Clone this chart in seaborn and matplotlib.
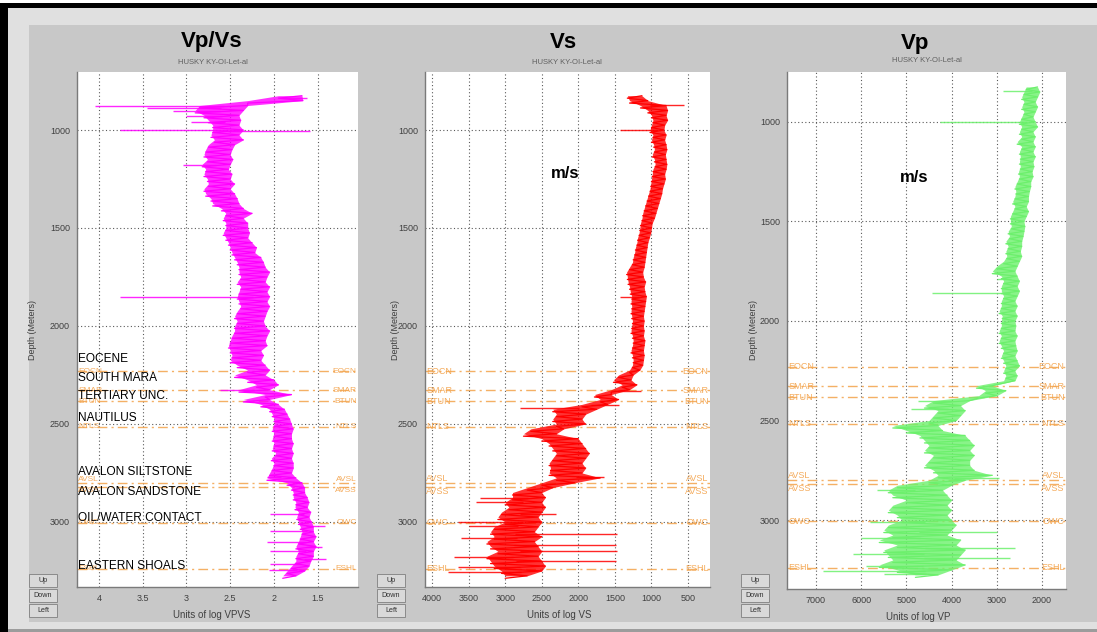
import numpy as np
import pandas as pd
import matplotlib
matplotlib.use("Agg")
import matplotlib.pyplot as plt
import seaborn as sns
from matplotlib.patches import Rectangle
import matplotlib.transforms as mtransforms

sns.set_style("white")
plt.rcParams['font.family'] = ['Liberation Sans', 'DejaVu Sans']

# ---------------- data ----------------
depth = np.arange(825, 3276, 25)   # sampling depths (m)

vpvs_lo = [1.68, 1.67, 2.30, 2.35, 2.40, 2.38, 2.40, 2.35, 2.40, 2.35,
           2.45, 2.48, 2.50, 2.47, 2.50, 2.52, 2.48, 2.50, 2.45, 2.50,
           2.45, 2.42, 2.40, 2.35, 2.25, 2.35, 2.30, 2.30, 2.28, 2.30,
           2.25, 2.20, 2.22, 2.15, 2.12, 2.10, 2.05, 2.08, 2.10, 2.05,
           2.08, 2.05, 2.08, 2.05, 2.08, 2.10, 2.12, 2.10, 2.05, 2.08,
           2.10, 2.08, 2.15, 2.12, 2.15, 2.10, 2.05, 2.10, 2.00, 1.95,
           2.05, 1.80, 2.05, 1.95, 1.88, 1.85, 1.82, 1.80, 1.78, 1.80,
           1.80, 1.78, 1.80, 1.78, 1.80, 1.78, 1.78, 1.80, 1.75, 1.68,
           1.65, 1.65, 1.62, 1.60, 1.62, 1.58, 1.60, 1.57, 1.55, 1.55,
           1.52, 1.55, 1.52, 1.55, 1.55, 1.58, 1.60, 1.65, 1.75]
vpvs_hi = [1.95, 2.30, 2.85, 2.90, 2.80, 2.75, 2.70, 2.70, 2.72, 2.68,
           2.75, 2.78, 2.80, 2.76, 2.82, 2.78, 2.80, 2.76, 2.75, 2.80,
           2.78, 2.72, 2.70, 2.60, 2.55, 2.58, 2.55, 2.55, 2.58, 2.55,
           2.52, 2.50, 2.48, 2.45, 2.42, 2.40, 2.40, 2.38, 2.42, 2.38,
           2.40, 2.42, 2.40, 2.38, 2.42, 2.45, 2.42, 2.45, 2.45, 2.48,
           2.50, 2.52, 2.50, 2.48, 2.50, 2.42, 2.30, 2.45, 2.30, 2.20,
           2.40, 2.10, 2.35, 2.15, 2.05, 2.02, 2.00, 2.00, 2.02, 2.00,
           2.02, 2.00, 2.02, 1.98, 2.03, 2.00, 2.02, 2.05, 2.08, 1.85,
           1.80, 1.78, 1.78, 1.75, 1.76, 1.72, 1.74, 1.72, 1.70, 1.68,
           1.70, 1.72, 1.75, 1.72, 1.75, 1.75, 1.80, 1.85, 1.90]
vpvs_spike_d = [835, 875, 888, 905, 930, 960, 1000, 1003, 1178, 1850, 2325, 2770,
                2960, 3020, 3045, 3100, 3130, 3150, 3190, 3215, 3245]
vpvs_spike_v = [1.62, 4.05, 3.45, 3.15, 3.00, 2.95, 3.76, 1.59, 3.04, 3.76, 2.62, 2.08,
                2.05, 1.42, 2.05, 2.08, 1.45, 2.05, 1.40, 2.05, 2.06]

vs_lo = [1130, 1050, 800, 780, 800, 780, 820, 830, 800, 820,
         800, 790, 810, 800, 790, 800, 820, 810, 830, 850,
         860, 880, 900, 920, 940, 960, 990, 1000, 1010, 1030,
         1050, 1060, 1070, 1080, 1090, 1100, 1120, 1110, 1080, 1100,
         1090, 1070, 1080, 1090, 1100, 1110, 1100, 1110, 1100, 1110,
         1090, 1100, 1110, 1100, 1110, 1120, 1160, 1250, 1280, 1200,
         1300, 1550, 1450, 1600, 1750, 1900, 1950, 1900, 2200, 2300,
         2000, 1950, 1900, 1850, 1900, 1950, 1900, 1950, 1700, 2050,
         2350, 2500, 2450, 2500, 2450, 2500, 2550, 2500, 2550, 2600,
         2500, 2600, 2550, 2500, 2550, 2500, 2450, 2500, 2700]
vs_hi = [1330, 1300, 1150, 1050, 1000, 980, 1000, 1020, 980, 1000,
         970, 960, 990, 960, 950, 980, 990, 1000, 1010, 1020,
         1040, 1060, 1080, 1100, 1120, 1130, 1150, 1160, 1170, 1190,
         1200, 1220, 1230, 1250, 1260, 1300, 1340, 1330, 1320, 1300,
         1290, 1270, 1280, 1270, 1280, 1270, 1260, 1270, 1280, 1260,
         1250, 1260, 1280, 1260, 1250, 1260, 1300, 1450, 1520, 1400,
         1550, 1780, 1700, 1950, 2350, 2300, 2350, 2300, 2650, 2750,
         2500, 2400, 2350, 2300, 2350, 2400, 2380, 2400, 2300, 2500,
         2700, 2900, 2900, 3000, 2950, 3050, 3100, 3000, 3150, 3200,
         3150, 3250, 3200, 3100, 3250, 3200, 3150, 3050, 3000]
vs_spike_d = [870, 1000, 1850, 2330, 2405, 2420, 2770, 2880, 2900, 2960, 3000,
              3020, 3060, 3080, 3120, 3150, 3180, 3200, 3230, 3255]
vs_spike_v = [550, 1430, 1430, 1150, 1450, 2800, 1650, 3350, 3400, 2300, 3650,
              3500, 1470, 3600, 1480, 1470, 3700, 1480, 3650, 3780]

vp_lo = [2100, 2050, 2100, 2150, 2100, 2150, 2200, 2150, 2100, 2200,
         2150, 2200, 2150, 2200, 2150, 2200, 2180, 2220, 2200, 2250,
         2250, 2280, 2300, 2300, 2350, 2300, 2350, 2400, 2380, 2400,
         2420, 2450, 2450, 2480, 2450, 2500, 2550, 2600, 2550, 2500,
         2550, 2500, 2550, 2600, 2550, 2600, 2550, 2600, 2580, 2600,
         2550, 2600, 2580, 2550, 2600, 2550, 2500, 2600, 2550, 2600,
         3100, 2800, 3000, 3600, 3800, 3700, 3800, 3900, 4300, 4200,
         3700, 3600, 3500, 3600, 3500, 3600, 3600, 3500, 3100, 3700,
         4000, 4200, 4100, 4000, 4100, 4000, 4100, 4000, 3900, 4000,
         4100, 3800, 3900, 3700, 3800, 3900, 3700, 4000, 4300]
vp_hi = [2350, 2400, 2450, 2400, 2450, 2400, 2450, 2500, 2450, 2500,
         2450, 2550, 2450, 2500, 2480, 2500, 2480, 2520, 2500, 2550,
         2600, 2580, 2600, 2650, 2600, 2650, 2700, 2700, 2680, 2750,
         2720, 2800, 2750, 2800, 2780, 2850, 3000, 3100, 2900, 2850,
         2900, 2900, 2850, 2900, 2900, 2950, 2880, 2900, 2900, 2950,
         2900, 2950, 2900, 2850, 2900, 2850, 2800, 2850, 2800, 2850,
         3450, 3250, 3400, 4400, 4600, 4300, 4400, 4500, 5300, 5000,
         4700, 4600, 4500, 4600, 4400, 4500, 4600, 4400, 4300, 4500,
         5200, 5400, 5300, 5000, 5300, 5400, 5200, 5100, 5400, 5500,
         5300, 5600, 5200, 5500, 5400, 5300, 5600, 5200, 4800]
vp_spike_d = [845, 1000, 1790, 1858, 2400, 2440, 2790, 2850, 3010, 3060, 3090,
              3140, 3170, 3190, 3230, 3255, 3270]
vp_spike_v = [2860, 4260, 3000, 4430, 4750, 4900, 2950, 5650, 5800, 3000, 6000,
              2600, 6180, 2700, 5900, 6840, 5500]

marker_depths = [2230, 2327, 2383, 2515, 2800, 2821, 3005, 3240]
marker_codes = ["EOCN", "SMAR", "BTUN", "NTLS", "AVSL", "AVSS", "OWC", "ESHL"]
formation_names = ["EOCENE", "SOUTH MARA", "TERTIARY UNC.", "NAUTILUS",
                   "AVALON SILTSTONE", "AVALON SANDSTONE", "OIL/WATER CONTACT",
                   "EASTERN SHOALS"]
formation_label_depths = [2168, 2265, 2357, 2469, 2745, 2847, 2980, 3224]

depth_ticks = [1000, 1500, 2000, 2500, 3000]
vpvs_ticks = [4, 3.5, 3, 2.5, 2, 1.5]
vpvs_ticklabels = ["4", "3.5", "3", "2.5", "2", "1.5"]
vs_ticks = [4000, 3500, 3000, 2500, 2000, 1500, 1000, 500]
vp_ticks = [7000, 6000, 5000, 4000, 3000, 2000]

# ---------------- figure ----------------
W, H = 1097, 632
fig = plt.figure(figsize=(W / 100, H / 100), dpi=100)
fig.patch.set_facecolor('#e0e0e0')


def fx(x):
    return x / W


def fy(y):
    return 1 - y / H


def rect(x0, y0, x1, y1, fc, ec='none', lw=0, z=-5):
    r = Rectangle((fx(x0), fy(y1)), (x1 - x0) / W, (y1 - y0) / H,
                  transform=fig.transFigure, facecolor=fc, edgecolor=ec,
                  linewidth=lw, zorder=z)
    fig.add_artist(r)


rect(29, 25, W, 622, '#c8c8c8')
rect(0, 0, W, 3, 'white')
rect(0, 3, W, 8, 'black')
rect(0, 3, 8, H, 'black')
rect(8, 629, W, H, '#9c9c9c')

for bx in [29, 377, 741]:
    for i, lab in enumerate(["Up", "Down", "Left"]):
        y0 = 574 + i * 15
        rect(bx, y0, bx + 28, y0 + 13, '#d9d9d9', ec='#8a8a8a', lw=0.7, z=-4)
        fig.text(fx(bx + 14), fy(y0 + 6.5), lab, fontsize=5.2, ha='center',
                 va='center', color='#303030')

ORANGE = '#f3a24a'
GRID = '#5a5a5a'
TXT = '#404040'
CODE_VA = {"AVSL": "bottom", "AVSS": "top"}


def draw_panel(ax, lo, hi, sp_d, sp_v, color, xlim, ylim, xticks, xticklabels,
               xlabel, ylabel_x, xlabel_x, code_size=6.5):
    lo = np.asarray(lo, float)
    hi = np.asarray(hi, float)
    ax.set_facecolor('white')
    ax.fill_betweenx(depth, lo, hi, color=color, alpha=0.8, lw=0, zorder=3)
    zz_d = np.column_stack([depth, depth + 12.5]).ravel()
    zz_v = np.column_stack([lo, hi]).ravel()
    df = pd.DataFrame({"value": zz_v, "depth": zz_d})
    sns.lineplot(data=df, x="value", y="depth", orient="y", sort=False,
                 estimator=None, color=color, lw=0.9, ax=ax, zorder=4)
    mid = (lo + hi) / 2
    sd = np.asarray(sp_d, float)
    ax.hlines(sd, np.interp(sd, depth, mid), sp_v, color=color, lw=1.0,
              alpha=0.85, zorder=4)

    ax.set_xlim(*xlim)
    ax.set_ylim(*ylim)
    ax.set_xticks(xticks)
    ax.set_xticklabels(xticklabels)
    ax.set_yticks(depth_ticks)
    ax.set_yticklabels([str(t) for t in depth_ticks])
    ax.tick_params(labelsize=6.5, labelcolor=TXT, length=2, color='#808080', pad=3)
    ax.grid(True, color=GRID, ls=(0, (1, 2.2)), lw=0.8, zorder=1)
    ax.set_axisbelow(True)
    for s in ['top', 'right']:
        ax.spines[s].set_visible(False)
    for s in ['left', 'bottom']:
        ax.spines[s].set_color('#7a7a7a')
        ax.spines[s].set_linewidth(1.0)
    ax.set_ylabel("Depth (Meters)", fontsize=6.5, color=TXT)
    ax.yaxis.set_label_coords(ylabel_x, 0.5)
    ax.set_xlabel(xlabel, fontsize=7, color=TXT)
    ax.xaxis.set_label_coords(xlabel_x, -0.045)

    trans = mtransforms.blended_transform_factory(ax.transAxes, ax.transData)
    for d, code in zip(marker_depths, marker_codes):
        va = CODE_VA.get(code, "center")
        ax.plot([0, 1], [d, d], transform=trans, color=ORANGE,
                ls=(0, (7, 3, 1.5, 3)), lw=1.0, alpha=0.85, zorder=2)
        ax.text(0.005, d, code, transform=trans, fontsize=code_size, color=ORANGE,
                ha='left', va=va, alpha=0.9, zorder=5)
        ax.text(0.995, d, code, transform=trans, fontsize=code_size, color=ORANGE,
                ha='right', va=va, alpha=0.9, zorder=5)
    return trans


ax1 = fig.add_axes([fx(77), fy(587), (358 - 77) / W, (587 - 72) / H])
ax2 = fig.add_axes([fx(425), fy(587), (710 - 425) / W, (587 - 72) / H])
ax3 = fig.add_axes([fx(787), fy(589), (1066 - 787) / W, (589 - 72) / H])

t1 = draw_panel(ax1, vpvs_lo, vpvs_hi, vpvs_spike_d, vpvs_spike_v, '#ff00ff',
                (4.25, 1.04), (3332, 704), vpvs_ticks, vpvs_ticklabels,
                "Units of log VPVS", -0.142, 0.48, code_size=6)
draw_panel(ax2, vs_lo, vs_hi, vs_spike_d, vs_spike_v, '#ff0000',
           (4096, 200), (3332, 704), vs_ticks, [str(t) for t in vs_ticks],
           "Units of log VS", -0.088, 0.47)
draw_panel(ax3, vp_lo, vp_hi, vp_spike_d, vp_spike_v, '#6cf06c',
           (7640, 1470), (3346, 750), vp_ticks, [str(t) for t in vp_ticks],
           "Units of log VP", -0.104, 0.47)

for name, d in zip(formation_names, formation_label_depths):
    ax1.text(0.004, d, name, transform=t1, fontsize=8.6, color='black',
             ha='left', va='center', zorder=6)

# titles
for (x, y, t), (sx, sy) in zip([(212, 42, "Vp/Vs"), (563, 43, "Vs"), (915, 44, "Vp")],
                               [(213, 62), (567, 62), (927, 61)]):
    fig.text(fx(x), fy(y), t, fontsize=16, fontweight='bold', ha='center',
             va='center', color='black')
    fig.text(fx(sx), fy(sy), "HUSKY KY-OI-Let-al", fontsize=5.5, ha='center',
             va='center', color='#606060')

fig.text(fx(565), fy(174), "m/s", fontsize=12, fontweight='bold', ha='center',
         va='center', color='black')
fig.text(fx(914), fy(178), "m/s", fontsize=12, fontweight='bold', ha='center',
         va='center', color='black')

fig.savefig("out.png", dpi=100, facecolor=fig.get_facecolor())
